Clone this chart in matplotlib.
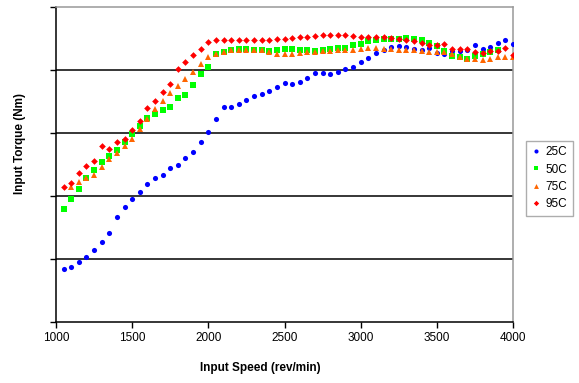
import numpy as np
import matplotlib
matplotlib.use("Agg")
import matplotlib.pyplot as plt

plt.rcParams['font.family'] = ['Liberation Sans', 'DejaVu Sans']

# Input speed (rev/min)
speed = list(range(1050, 4001, 50))

# Input torque readings per oil temperature
torque_25c = [0.84, 0.88, 0.95, 1.03, 1.15, 1.27, 1.41, 1.66, 1.83, 1.95,
              2.06, 2.19, 2.28, 2.34, 2.45, 2.50, 2.60, 2.70, 2.85, 3.02,
              3.22, 3.42, 3.41, 3.46, 3.52, 3.59, 3.62, 3.66, 3.73, 3.80,
              3.78, 3.81, 3.88, 3.96, 3.96, 3.94, 3.97, 4.01, 4.05, 4.13,
              4.19, 4.27, 4.32, 4.37, 4.38, 4.37, 4.34, 4.31, 4.35, 4.27,
              4.25, 4.30, 4.30, 4.31, 4.39, 4.34, 4.37, 4.43, 4.47, 4.42]

torque_50c = [1.80, 1.95, 2.11, 2.28, 2.42, 2.54, 2.64, 2.73, 2.85, 2.98,
              3.11, 3.24, 3.30, 3.37, 3.41, 3.56, 3.61, 3.76, 3.93, 4.04,
              4.26, 4.29, 4.31, 4.33, 4.33, 4.31, 4.31, 4.30, 4.32, 4.34,
              4.33, 4.31, 4.31, 4.30, 4.31, 4.33, 4.35, 4.35, 4.39, 4.42,
              4.46, 4.48, 4.49, 4.49, 4.50, 4.51, 4.49, 4.47, 4.43, 4.38,
              4.30, 4.23, 4.20, 4.18, 4.23, 4.25, 4.28, 4.31]

torque_75c = [2.15, 2.22, 2.29, 2.34, 2.46, 2.58, 2.69, 2.80, 2.91,
              3.06, 3.23, 3.38, 3.51, 3.64, 3.75, 3.86, 3.97, 4.09, 4.21,
              4.26, 4.28, 4.31, 4.32, 4.32, 4.32, 4.31, 4.28, 4.25, 4.26,
              4.26, 4.27, 4.28, 4.29, 4.30, 4.30, 4.32, 4.32, 4.32, 4.34,
              4.35, 4.35, 4.34, 4.33, 4.32, 4.31, 4.31, 4.30, 4.29, 4.29,
              4.28, 4.26, 4.21, 4.18, 4.18, 4.16, 4.18, 4.20, 4.21, 4.20]

torque_95c = [2.14, 2.20, 2.37, 2.48, 2.55, 2.80, 2.74, 2.85, 2.91, 3.04,
              3.19, 3.39, 3.51, 3.65, 3.78, 4.02, 4.12, 4.24, 4.34, 4.44,
              4.47, 4.48, 4.48, 4.48, 4.48, 4.48, 4.48, 4.48, 4.49, 4.50,
              4.51, 4.52, 4.53, 4.54, 4.56, 4.56, 4.55, 4.55, 4.54, 4.53,
              4.52, 4.52, 4.52, 4.51, 4.50, 4.48, 4.46, 4.43, 4.40, 4.40,
              4.42, 4.34, 4.34, 4.34, 4.28, 4.27, 4.30, 4.30, 4.35, 4.24]

series = [
    ("25C", speed, torque_25c, "o", "#0000FF", 3.7),
    ("50C", speed[:len(torque_50c)], torque_50c, "s", "#00FF00", 4.2),
    ("75C", speed[1:], torque_75c, "^", "#FF6600", 4.4),
    ("95C", speed, torque_95c, "D", "#FF0000", 3.4),
]

fig = plt.figure(figsize=(5.79, 3.83), dpi=100)
ax = fig.add_axes([56 / 579, 1 - 322 / 383, 457 / 579, 315 / 383])

for label, xs, ys, mk, col, ms in series:
    ax.plot(xs, ys, linestyle="none", marker=mk, color=col,
            markersize=ms, markeredgewidth=0, label=label, zorder=3)

ax.set_xlim(1000, 4000)
ax.set_ylim(0, 5)
ax.set_xticks(np.arange(1000, 4001, 500))
ax.set_yticks(np.arange(0, 6, 1))
ax.yaxis.set_ticklabels([])
ax.tick_params(axis="both", direction="out", length=4, width=1, color="black",
               labelsize=8.5, pad=3.5)

for yv in range(1, 5):
    ax.axhline(yv, color="black", linewidth=1.1, zorder=1)

for side in ("left", "bottom"):
    ax.spines[side].set_color("black")
    ax.spines[side].set_linewidth(1.1)
for side in ("top", "right"):
    ax.spines[side].set_color("#999999")
    ax.spines[side].set_linewidth(1.1)

ax.set_xlabel("Input Speed (rev/min)", fontsize=8.5, fontweight="bold")
ax.xaxis.set_label_coords((260 - 56) / 457, (322 - 362) / 315)
ax.set_ylabel("Input Torque (Nm)", fontsize=8.5, fontweight="bold")
ax.yaxis.set_label_coords((26 - 56) / 457, (322 - 144) / 315)

leg = ax.legend(loc="upper left", bbox_to_anchor=(526 / 579, 1 - 141 / 383),
                bbox_transform=fig.transFigure, fontsize=8.5, frameon=True,
                fancybox=False, handlelength=0.8, handletextpad=0.4,
                borderpad=0.45, labelspacing=0.45, markerscale=0.8,
                borderaxespad=0)
leg.get_frame().set_edgecolor("#999999")
leg.get_frame().set_linewidth(1.0)

fig.savefig("out.png", dpi=100)
